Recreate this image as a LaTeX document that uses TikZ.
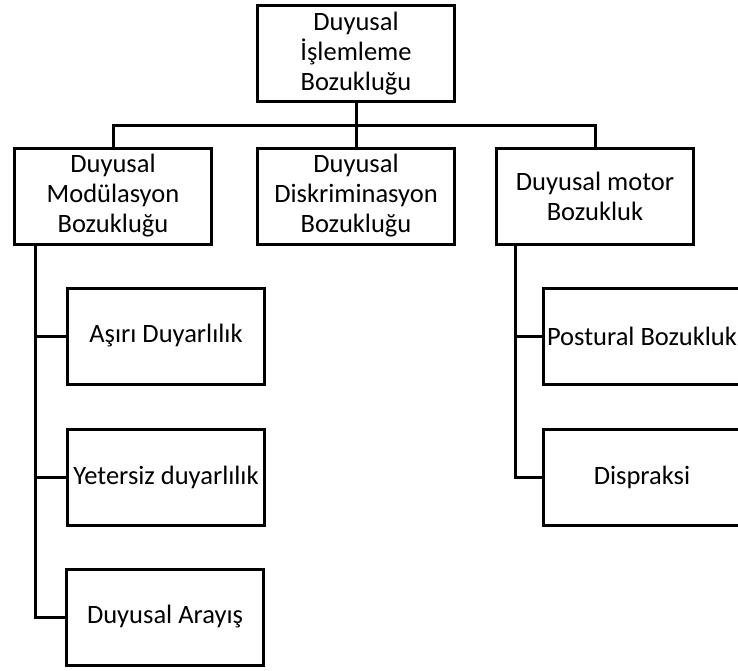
\documentclass[tikz,border=0pt]{standalone}
\usepackage{fontspec}
\setmainfont{Carlito}
\begin{document}
\begin{tikzpicture}[x=1pt, y=-1pt]
        \tikzstyle{every node}=[draw, line width=3pt, minimum width=197pt, minimum height=96pt,
                                align=center, inner sep=0pt, font=\fontsize{26.5}{30}\selectfont]
        \useasboundingbox (0,0) rectangle (738,670);
        
        \node   (bozukluk)  at (356,53.5)   {Duyusal\\İşlemleme\\Bozukluğu};
        \node   (modul)     at (113,196)    {Duyusal\\Modülasyon\\Bozukluğu};
        \node   (diskrim)   at (356,196)    {Duyusal\\Diskriminasyon\\Bozukluğu};
        \node   (motor)     at (595,196)    {Duyusal motor\\Bozukluk};
        
        \node   (asiri)     at (166,336)    {Aşırı Duyarlılık};
        \node   (yetersiz)  at (166,477)    {Yetersiz duyarlılık};
        \node   (arayis)    at (165,617)    {Duyusal Arayış};
        \node   (postural)  at (642,336)    {Postural Bozukluk};
        \node   (dispraksi) at (642,477)    {Dispraksi};
        
        \coordinate (bus)  at (356,125);
        \coordinate (mkol) at (35,245);
        \coordinate (dkol) at (515,245);
        
        \path[draw, line width=3pt]
                (bozukluk.south) -- (diskrim.north)
                (modul.north) |- (bus) -| (motor.north)
                (mkol) |- (asiri.west)
                (mkol) |- (yetersiz.west)
                (mkol) |- (arayis.west)
                (dkol) |- (postural.west)
                (dkol) |- (dispraksi.west);
        
    \end{tikzpicture}
\end{document}
